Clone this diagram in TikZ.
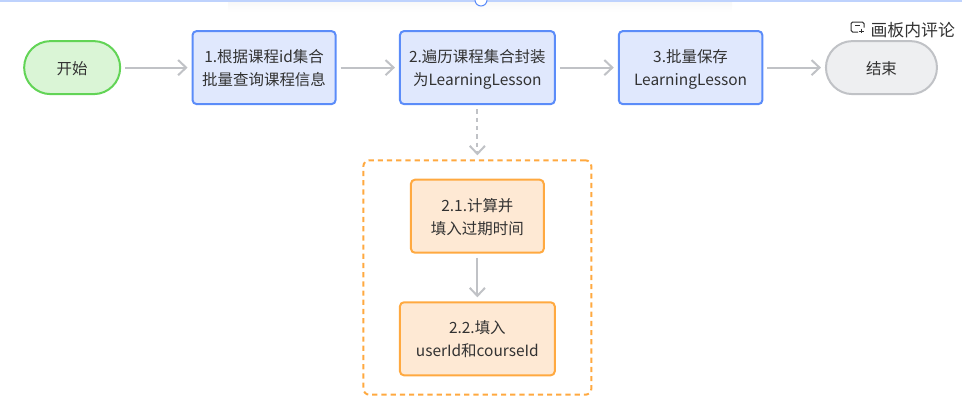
\documentclass[tikz,border=0pt]{standalone}
\usepackage{xcolor}
\usepackage{fontspec}
\setmainfont{Noto Sans CJK SC}
\usetikzlibrary{arrows.meta, positioning, fit, backgrounds}
\definecolor{nodeblue}{RGB}{224,232,253}
\definecolor{lineblue}{RGB}{91,140,249}
\definecolor{nodegreen}{RGB}{218,245,214}
\definecolor{linegreen}{RGB}{98,212,86}
\definecolor{nodeorange}{RGB}{254,233,212}
\definecolor{lineorange}{RGB}{255,169,64}
\definecolor{nodegrey}{RGB}{238,239,241}
\definecolor{linegrey}{RGB}{192,194,198}
\definecolor{barblue}{RGB}{190,210,253}
\definecolor{inkgrey}{RGB}{50,50,50}

\begin{document}
\begin{tikzpicture}[font=\fontsize{11}{16.4}\selectfont, text=inkgrey, line width=0.5mm,
    b/.style={draw=lineblue, rounded corners=1mm, fill=nodeblue, align=center, minimum height=18.25mm, text depth=-3.4pt},
    o/.style={draw=lineorange, rounded corners=1mm, fill=nodeorange, align=center, minimum height=18.25mm, text depth=-3.4pt},
    g/.style={draw=linegreen, rounded corners=6.6mm, fill=nodegreen, minimum width=24mm, minimum height=13.25mm, text depth=-1pt},
    k/.style={draw=linegrey, rounded corners=6.6mm, fill=nodegrey, minimum width=27.75mm, minimum height=13.25mm, text depth=-1pt},
    grp/.style={draw=lineorange, dash pattern=on 1.3mm off 1mm, rounded corners=1.5mm, inner xsep=8.9mm, inner ysep=4.6mm},
    arr/.style={draw=linegrey, -{Straight Barb[length=2mm, width=3.8mm]}, shorten <=1mm, shorten >=1mm},
    darr/.style={arr, dash pattern=on 1.1mm off 1mm}]
    \useasboundingbox (0,0) rectangle (240.5mm,-101.5mm);
    \shade[top color=black!3, bottom color=white, draw=none] (57mm,-0.25mm) rectangle (183mm,-3mm);
    \fill[barblue] (0,0) rectangle (240.5mm,-0.4mm);
    \node[draw=lineblue, line width=0.25mm, fill=white, circle, minimum size=3mm, inner sep=0pt] (anchorpt) at (120.25mm,0) {};
    \node[g] (start) at (18.04mm,-16.9mm) {开始};
    \node[b, minimum width=35.75mm, right=17.6mm of start] (s1) {1.根据课程id集合\\批量查询课程信息};
    \node[b, minimum width=38.7mm, right=15.6mm of s1] (s2) {2.遍历课程集合封装\\为LearningLesson};
    \node[b, minimum width=35.9mm, right=15.5mm of s2] (s3) {3.批量保存\\LearningLesson};
    \node[k, right=15.4mm of s3] (end) {结束};
    \node[o, minimum width=33.2mm, below=18.4mm of s2] (s21) {2.1.计算并\\填入过期时间};
    \node[o, minimum width=38.7mm, below=11.9mm of s21] (s22) {2.2.填入\\userId和courseId};
    \node[grp, fit=(s21)(s22)] (group) {};
    \draw[arr] (start)--(s1); \draw[arr] (s1)--(s2); \draw[arr] (s2)--(s3); \draw[arr] (s3)--(end);
    \draw[darr] (s2)--(group); \draw[arr] (s21)--(s22);
    \node[font=\fontsize{12}{14}\selectfont, anchor=west, inner sep=0pt] (comment) at (217.4mm,-7.5mm) {画板内评论};
    \draw[inkgrey, line width=0.25mm, rounded corners=0.4mm] (214.5mm,-8mm) -- (212.75mm,-8mm) -- (212.75mm,-5.5mm) -- (216mm,-5.5mm) -- (216mm,-6.9mm);
    \draw[inkgrey, line width=0.25mm] (213.75mm,-6.4mm) -- (215mm,-6.4mm) (214.7mm,-7.75mm) -- (215.9mm,-7.75mm) (215.3mm,-7.15mm) -- (215.3mm,-8.35mm);
  \end{tikzpicture}
\end{document}
